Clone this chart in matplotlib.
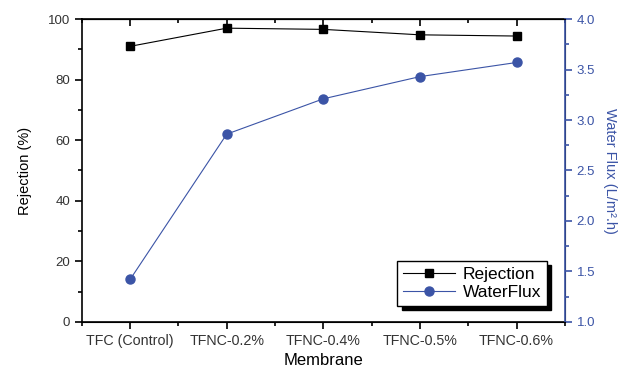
import matplotlib.pyplot as plt
from matplotlib.ticker import MultipleLocator

plt.rcParams['font.family'] = ['Liberation Sans', 'DejaVu Sans']

membranes = ["TFC (Control)", "TFNC-0.2%", "TFNC-0.4%", "TFNC-0.5%", "TFNC-0.6%"]
rejection = [91.0, 97.0, 96.6, 94.8, 94.4]
water_flux = [1.42, 2.86, 3.21, 3.43, 3.57]

blue = "#3b54a6"
x = list(range(len(membranes)))

fig = plt.figure(figsize=(6.34, 3.67), dpi=100)
ax = fig.add_axes([0.129, 0.123, 0.762, 0.825])
ax2 = ax.twinx()

l1, = ax.plot(x, rejection, color="black", lw=0.8, marker="s", ms=5.5, label="Rejection")
l2, = ax2.plot(x, water_flux, color=blue, lw=0.8, marker="o", ms=6.5, label="WaterFlux")

ax.set_xlim(-0.5, 4.5)
ax.set_ylim(0, 100)
ax2.set_ylim(1.0, 4.0)

ax.set_xticks(x)
ax.set_xticklabels(membranes)
ax.xaxis.set_minor_locator(MultipleLocator(0.5))
ax.yaxis.set_major_locator(MultipleLocator(20))
ax.yaxis.set_minor_locator(MultipleLocator(10))
ax2.yaxis.set_major_locator(MultipleLocator(0.5))
ax2.yaxis.set_minor_locator(MultipleLocator(0.25))

ax.tick_params(axis="both", which="major", direction="out", length=5, width=1.2, labelsize=9.5,
               colors="black", labelcolor="#333333")
ax.tick_params(axis="both", which="minor", direction="out", length=3, width=1.2)
ax.tick_params(axis="x", labelsize=10.3, pad=4)
ax2.tick_params(axis="y", which="major", direction="out", length=5, width=1.2, colors=blue, labelsize=9.5)
ax2.tick_params(axis="y", which="minor", direction="out", length=3, width=1.2, colors=blue)

top = ax.secondary_xaxis("top")
top.set_xticks(x)
top.xaxis.set_minor_locator(MultipleLocator(0.5))
top.tick_params(which="major", direction="in", length=5, width=1.2, labeltop=False)
top.tick_params(which="minor", direction="in", length=3, width=1.2)
top.spines["top"].set_linewidth(1.2)

for s in ["left", "bottom"]:
    ax.spines[s].set_linewidth(1.2)
ax2.spines["right"].set_color(blue)
ax2.spines["right"].set_linewidth(1.2)
ax2.spines["left"].set_visible(False)

ax.set_xlabel("Membrane", fontsize=12, labelpad=3)
ax.set_ylabel("Rejection (%)", fontsize=10.5, labelpad=11)
ax2.set_ylabel("Water Flux (L/m\u00b2.h)", fontsize=10.5, color=blue, rotation=270, labelpad=16)

leg = ax.legend(handles=[l1, l2], loc="lower right", bbox_to_anchor=(0.963, 0.053),
                borderaxespad=0, fontsize=12.5, frameon=True, fancybox=False, edgecolor="black",
                shadow={"color": "black", "alpha": 1.0, "ox": 3, "oy": -3},
                handlelength=3.0, handletextpad=0.4, borderpad=0.35, labelspacing=0.15)
leg.get_frame().set_linewidth(1.0)

fig.savefig("out.png", dpi=100)
